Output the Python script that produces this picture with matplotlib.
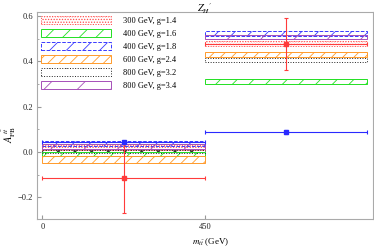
"""
A_FB^tt in two m_tt bins, with Z_H' model predictions as hatched bands
"""

import matplotlib
matplotlib.use('Agg')
import matplotlib.pyplot as plt
from matplotlib.ticker import MultipleLocator

plt.rcParams['font.family'] = ['Liberation Serif', 'DejaVu Serif']
plt.rcParams['mathtext.fontset'] = 'stix'
plt.rcParams['hatch.linewidth'] = 0.6

# bins in m_tt (GeV)
bin_lo = [0, 450]
bin_hi = [450, 900]

# model labels and band limits (low bin, high bin)
models = ['300 GeV, g=1.4', '400 GeV, g=1.6', '400 GeV, g=1.8',
          '600 GeV, g=2.4', '800 GeV, g=3.2', '800 GeV, g=3.4']
band_low = [[0.010, 0.468], [-0.018, 0.300], [0.025, 0.512],
            [-0.048, 0.418], [-0.003, 0.398], [0.013, 0.498]]
band_high = [[0.030, 0.490], [0.000, 0.320], [0.050, 0.532],
             [-0.020, 0.440], [0.010, 0.414], [0.035, 0.515]]
colors = ['#ff4a4a', '#22e022', '#3a3aff', '#ff9a2a', '#222222', '#a64fb8']
hatches = ['......', '//', '//', '///', '.', '/']
edge_styles = [':', '-', '--', '-', ':', '-']

# measurement (red) and SM (blue)
meas_y = [-0.116, 0.475]
meas_err = [0.153, 0.114]
sm_y = [0.042, 0.088]
sm_err = [0.005, 0.009]


def draw_bands(ax):
    """
    hatched band per model in each bin
    """
    centers = [(a + b) / 2 for a, b in zip(bin_lo, bin_hi)]
    widths = [b - a for a, b in zip(bin_lo, bin_hi)]
    handles = []
    for i, name in enumerate(models):
        heights = [h - l for l, h in zip(band_low[i], band_high[i])]
        bars = ax.bar(centers, heights, width=widths, bottom=band_low[i],
                      fill=False, hatch=hatches[i], edgecolor=colors[i],
                      linestyle=edge_styles[i], linewidth=0.7, label=name)
        handles.append(bars)
    return handles


def draw_points(ax):
    """
    data points with bin-width horizontal bars
    """
    centers = [(a + b) / 2 for a, b in zip(bin_lo, bin_hi)]
    half = [(b - a) / 2 for a, b in zip(bin_lo, bin_hi)]
    ax.errorbar(centers, meas_y, yerr=meas_err, xerr=half, fmt='s',
                color='#ff3b3b', ms=2.5, lw=0.8, capsize=1.5, capthick=0.8)
    ax.errorbar(centers, sm_y, yerr=sm_err, xerr=half, fmt='s',
                color='#2a2aff', ms=2.5, lw=0.8, capsize=1.5, capthick=0.8)


fig = plt.figure(figsize=(3.74, 2.49), dpi=100)
ax = fig.add_axes([0.099, 0.12, 0.898, 0.832])

handles = draw_bands(ax)
draw_points(ax)

ax.set_xlim(-15, 915)
ax.set_ylim(-0.296, 0.617)
ax.set_xticks([0, 450])
ax.yaxis.set_major_locator(MultipleLocator(0.2))
ax.yaxis.set_minor_locator(MultipleLocator(0.1))
ax.tick_params(axis='both', which='both', direction='in', labelsize=6,
               color='#999999', labelcolor='#222222', pad=3)
ax.tick_params(which='major', length=3)
ax.tick_params(which='minor', length=1.5)
ax.tick_params(axis='x', which='both', top=False)
for s in ax.spines.values():
    s.set_color('#aaaaaa')
    s.set_linewidth(0.8)

fig.text(0.548, 0.966, r"$Z_{H}{}^{\prime}$", fontsize=7.5,
         ha='center', va='center')
ax.set_ylabel(r'$A_{\rm FB}^{\;t\bar{t}}$', fontsize=7.5)
ax.yaxis.set_label_coords(-0.058, 0.41)
ax.set_xlabel(r'$m_{t\bar{t}}$ (GeV)', fontsize=6.5)
ax.xaxis.set_label_coords(0.518, -0.085)

ax.legend(handles=handles, loc='upper left', frameon=False, fontsize=6,
          handlelength=8.4, handleheight=1.15, labelspacing=0.48,
          handletextpad=1.4, borderaxespad=0.3, borderpad=0.2)

fig.savefig('out.png', dpi=100)
